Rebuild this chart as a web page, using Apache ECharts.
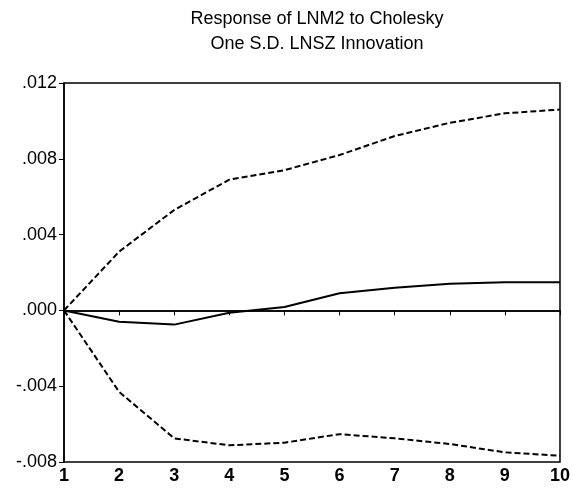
<!DOCTYPE html>
<html>
<head>
<meta charset="utf-8">
<script src="https://cdn.jsdelivr.net/npm/echarts@6/dist/echarts.min.js"></script>
<style>html,body{margin:0;padding:0;background:#fff;}#c{width:573px;height:489px;}</style>
</head>
<body>
<div id="c"></div>
<script>
const periods = ['1','2','3','4','5','6','7','8','9','10'];
const response = [0, -0.0006, -0.00075, -0.00012, 0.00018, 0.0009, 0.0012, 0.0014, 0.00148, 0.00148];
const upperBand = [0, 0.0031, 0.0053, 0.0069, 0.0074, 0.0082, 0.0092, 0.0099, 0.0104, 0.0106];
const lowerBand = [0, -0.0043, -0.00675, -0.00712, -0.00698, -0.00653, -0.00675, -0.00705, -0.00749, -0.00767];
const yMin = -0.008, yMax = 0.012, yStep = 0.004;
const titleText = 'Response of LNM2 to Cholesky\nOne S.D. LNSZ Innovation';

const fmt = v => {
  let s = Math.abs(v) < 1e-9 ? '0.000' : v.toFixed(3);
  return s.replace(/^(-?)0\./, '$1.');
};
const chart = echarts.init(document.getElementById('c'));
const dash = {color:'#000', width:2, type:[6,3]};
chart.setOption({
  animation:false,
  backgroundColor:'#fff',
  title:{text:titleText, left:312, textAlign:'center', top:2,
    textStyle:{fontFamily:'Liberation Sans', fontSize:18, fontWeight:'normal', color:'#000', lineHeight:25}},
  grid:{left:64, right:12, top:83, bottom:27, show:true, borderColor:'#000', borderWidth:1.5},
  xAxis:{type:'category', data:periods, boundaryGap:false,
    axisLine:{lineStyle:{color:'#000', width:1.5}},
    axisTick:{length:5, lineStyle:{color:'#000'}},
    axisLabel:{color:'#000', fontFamily:'Liberation Sans', fontSize:18, fontWeight:'bold', margin:5},
    splitLine:{show:false}},
  yAxis:{type:'value', min:yMin, max:yMax, interval:yStep,
    axisLine:{show:true, lineStyle:{color:'#000', width:1.5}},
    axisTick:{show:true, length:5, lineStyle:{color:'#000'}},
    axisLabel:{color:'#000', fontFamily:'Liberation Sans', fontSize:18, margin:7, formatter:fmt},
    splitLine:{show:false}},
  series:[
    {type:'line', data:response, symbol:'none', lineStyle:{color:'#000', width:2},
      markLine:{silent:true, symbol:'none', label:{show:false}, lineStyle:{color:'#000', width:1.5, type:'solid'}, data:[{yAxis:0}]}},
    {type:'line', data:upperBand, symbol:'none', lineStyle:dash},
    {type:'line', data:lowerBand, symbol:'none', lineStyle:dash}
  ]
});
</script>
</body>
</html>
